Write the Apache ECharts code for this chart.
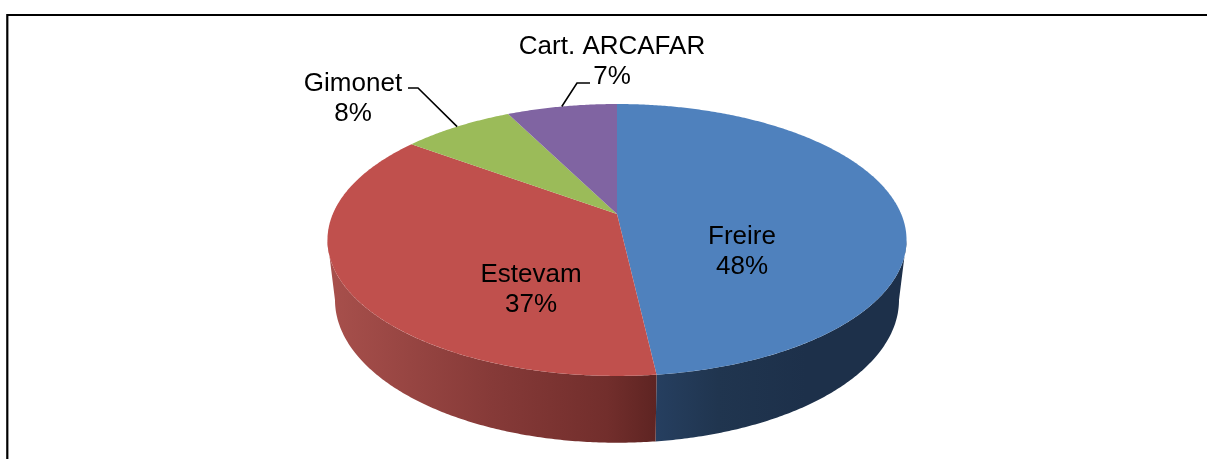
<!DOCTYPE html>
<html>
<head>
<meta charset="utf-8">
<style>html,body{margin:0;padding:0;background:#fff}#c{width:1207px;height:459px}</style>
<script src="https://cdn.jsdelivr.net/npm/echarts@6/dist/echarts.min.js"></script>
</head>
<body>
<div id="c"></div>
<script>
// Data, estimated from the slice boundaries (labels show the rounded share)
const categories = ['Freire', 'Estevam', 'Gimonet', 'Cart. ARCAFAR'];
const shares = [48.2, 36.9, 7.5, 7.4];

// Style
const topColors = ['#4F81BD', '#C0504D', '#9BBB59', '#8064A2'];
const wallStops = [
  [{offset: 0, color: '#263F60'}, {offset: 0.25, color: '#20354F'}, {offset: 0.6, color: '#1D304A'}, {offset: 1, color: '#1D304A'}],
  [{offset: 0, color: '#A8504C'}, {offset: 0.5, color: '#863A38'}, {offset: 0.85, color: '#722E2C'}, {offset: 1, color: '#5E2422'}]
];
// Label centre, and elbow of the leader (if any)
const labelAt = [[742, 252], [531, 290], [353, 99], [612, 62]];
const elbows = [null, null, [[408, 88], [418, 88]], [[590, 83], [577, 83]]];

// Perspective projection of the pie disc
const P = {cx: 617, cy: 214, A: 284.2, B: 131, p: 0.191,
           rimCy: 240, baseCy: 300, baseSx: 0.974, baseSy: 1.05, visFrom: 101, visTo: 259};
function rim(deg) {
  const a = deg * Math.PI / 180, u = Math.sin(a), v = Math.cos(a), w = 1 + P.p * v;
  return [P.cx + P.A * u / w, P.cy - P.B * v / w];
}
function base(deg) {
  const t = rim(deg);
  return [P.cx + P.baseSx * (t[0] - P.cx), P.baseCy + P.baseSy * (t[1] - P.rimCy)];
}
function arc(fn, from, to) {
  const pts = [], n = Math.max(2, Math.ceil(Math.abs(to - from) * 2));
  for (let i = 0; i <= n; i++) pts.push(fn(from + (to - from) * i / n));
  return pts;
}
const total = shares.reduce((a, b) => a + b, 0);
function startDeg(i) {
  let s = 0;
  for (let k = 0; k < i; k++) s += shares[k];
  return s / total * 360;
}

function renderWall(params, api) {
  const i = api.value(0);
  const a0 = Math.max(startDeg(i), P.visFrom), a1 = Math.min(startDeg(i) + api.value(1) / total * 360, P.visTo);
  if (a1 <= a0) return {type: 'group', children: []};
  // Blue wall runs dark-to-seam from the right, so its gradient starts at the seam on the left
  return {
    type: 'polygon',
    shape: {points: arc(rim, a0, a1).concat(arc(base, a1, a0))},
    style: {fill: new echarts.graphic.LinearGradient(0, 0, 1, 0, wallStops[i])}
  };
}
function renderTop(params, api) {
  const i = api.value(0);
  const a0 = startDeg(i), a1 = a0 + api.value(1) / total * 360;
  return {
    type: 'polygon',
    shape: {points: [[P.cx, P.cy]].concat(arc(rim, a0, a1))},
    style: {fill: topColors[i]}
  };
}
function renderLabel(params, api) {
  const i = api.value(0);
  const children = [];
  const mid = startDeg(i) + api.value(1) / total * 180;
  if (elbows[i]) {
    children.push({
      type: 'polyline',
      shape: {points: elbows[i].concat([rim(mid)])},
      style: {stroke: '#000', lineWidth: 1.6, fill: null}
    });
  }
  children.push({
    type: 'text',
    style: {
      text: categories[i] + '\n' + Math.round(api.value(1)) + '%',
      x: labelAt[i][0], y: labelAt[i][1], align: 'center', verticalAlign: 'middle',
      font: '26px "Liberation Sans", Arial, sans-serif', lineHeight: 30, fill: '#000'
    }
  });
  return {type: 'group', children};
}

const rows = shares.map((s, i) => [i, s]);
const chart = echarts.init(document.getElementById('c'), null, {renderer: 'canvas'});
chart.setOption({
  backgroundColor: '#fff',
  animation: false,
  graphic: [{
    type: 'polyline', z: 0, silent: true,
    shape: {points: [[7.3, 459], [7.3, 15], [1207, 15]]},
    style: {stroke: '#000', lineWidth: 2.2, fill: null}
  }],
  series: [
    {type: 'custom', name: 'wall', coordinateSystem: 'none', silent: true, z: 1, renderItem: renderWall, data: rows},
    {type: 'custom', name: 'top', coordinateSystem: 'none', silent: true, z: 2, renderItem: renderTop, data: rows},
    {type: 'custom', name: 'labels', coordinateSystem: 'none', silent: true, z: 3, renderItem: renderLabel, data: rows}
  ]
});
</script>
</body>
</html>
